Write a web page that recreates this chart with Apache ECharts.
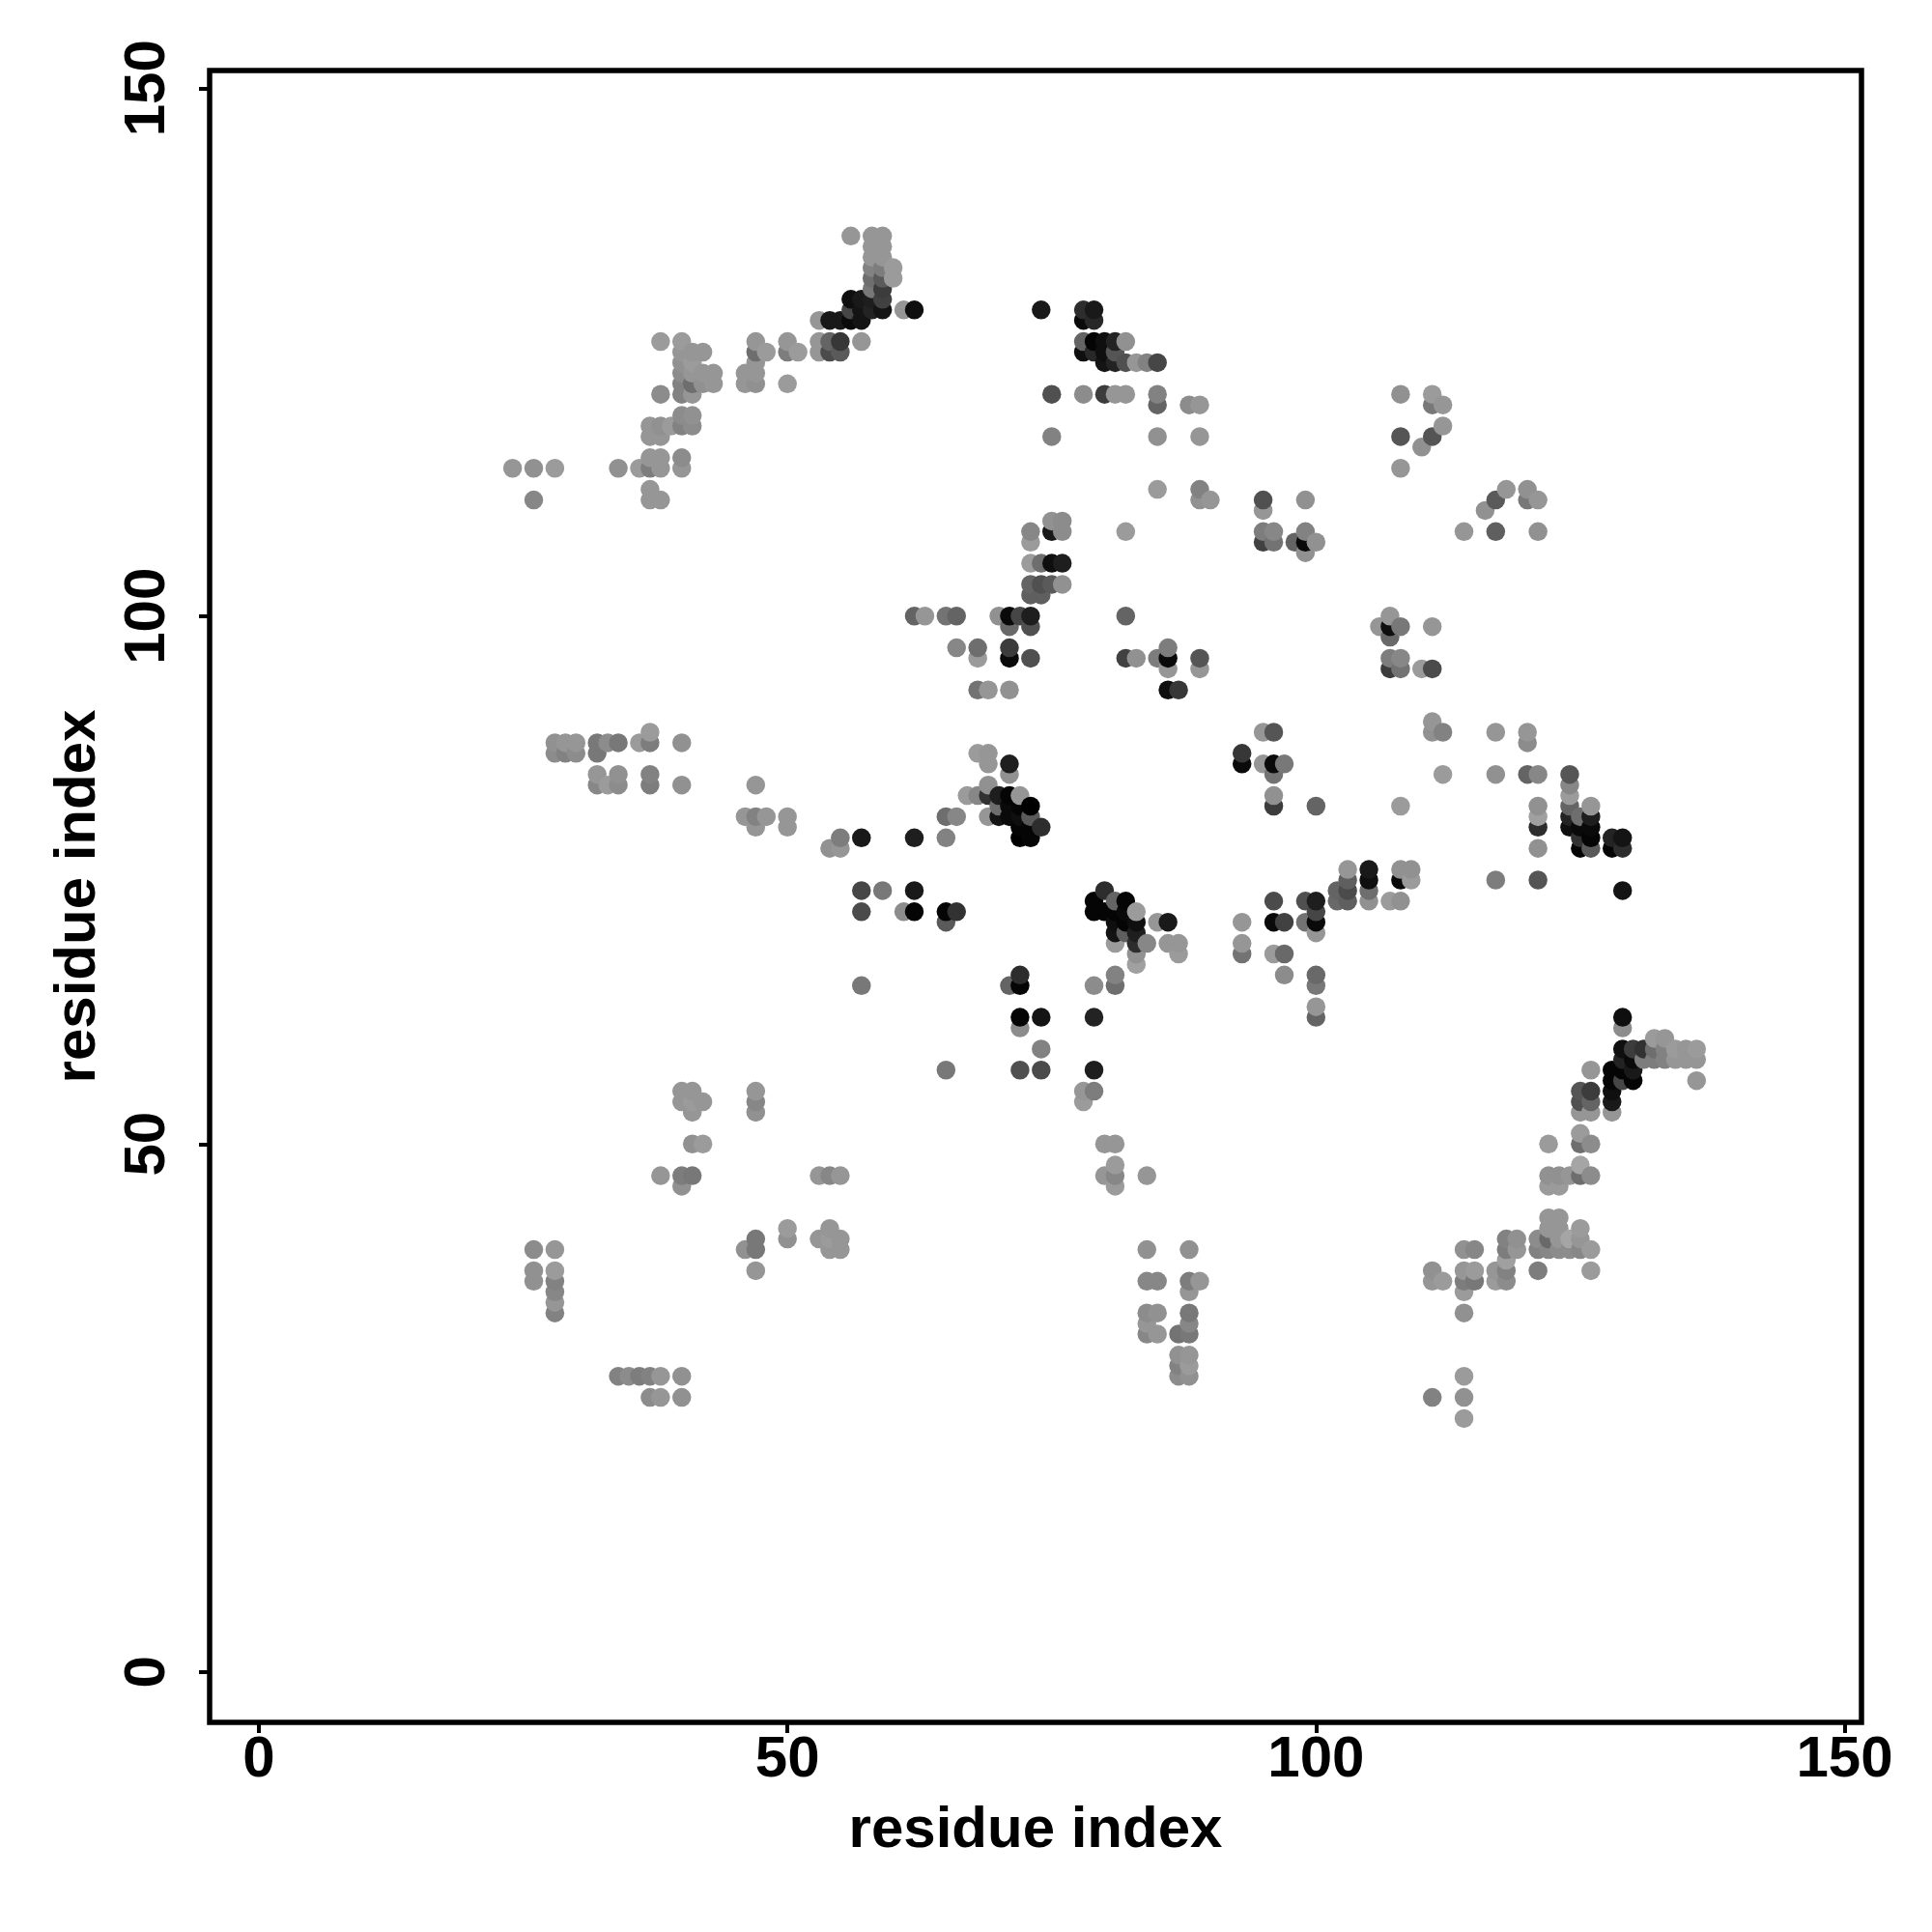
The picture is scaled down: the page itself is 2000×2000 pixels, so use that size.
<!DOCTYPE html>
<html>
<head>
<meta charset="utf-8">
<script src="https://cdn.jsdelivr.net/npm/echarts@6/dist/echarts.min.js"></script>
<style>html,body{margin:0;padding:0;background:#fff}#c{width:2000px;height:2000px}</style>
</head>
<body>
<div id="c"></div>
<script>
const tickValues = [0, 50, 100, 150];
const xTitle = 'residue index';
const yTitle = 'residue index';
const rowY = [136,135,134,133,132,131,130,129,128,126,125,124,123,122,121,120,119,118,117,116,115,114,112,111,110,109,108,107,106,105,103,102,100,99,98,97,96,95,93,90,89,88,87,86,85,84,83,82,81,80,79,78,76,75,74,73,72,71,70,69,68,67,66,65,63,62,61,60,59,58,57,56,55,54,53,51,50,48,47,46,43,42,41,40,39,38,37,36,35,34,33,32,30,29,28,26,24];
const rowX = [
[56,58,59],[58,59],[58,59],[58,59,60],[58,59,60],[58,59],[56,57,58,59],
[56,57,58,59,61,62,74,78,79],[53,54,55,56,57,78,79],
[38,40,47,50,53,54,55,57,78,79,80,81,82],
[40,41,42,47,48,50,51,53,54,55,78,79,80,81],
[40,41,47,80,81,82,83,84,85],[40,41,42,43,46,47],[40,41,42,43,46,47,50],
[38,40,41,75,78,80,81,82,85,108,111],[85,88,89,111,112],[40,41],[37,38,39,40,41,112],
[37,38,75,85,89,108,111],[110],[37,38,40],[24,26,28,34,36,37,38,40,108],
[37,85,89,118,120],[26,37,38,89,90,95,99,117,120,121],[95,116],[75,76],
[73,75,76,82,95,96,99,114,117,121],[73,95,96,98,99,100],[99],[73,74,75,76],[73,74,75,76],[73,74],
[62,63,65,66,70,71,72,73,82,107],[71,73,106,107,108,111],[107],[66,68,71,86],
[68,71,73,82,83,85,86,89,107,108],[86,89,107,108,110,111],[68,69,71,86,87],[111],
[37,95,96,111,112,117,120],[28,29,30,32,33,34,36,37,40,120],[28,29,30,32,68,69,93],
[69,71,93,95,96,97],[32,34,37,71,96,112,117,120,121,124],[32,33,34,37,40,47,69,124],
[67,68,69,70,71,72,96,124],[70,71,72,73,96,100,108,121,124,126],
[46,47,48,50,65,66,69,70,71,72,73,121,124,125,126],[47,50,72,73,74,121,124,125,126],
[55,57,62,65,72,73,125,126,128,129],[54,55,121,125,126,128,129],[103,105,108,109],
[103,105,108,109,117,121],[57,59,62,80,102,103,105,129],[79,81,82,96,99,100,102,103,105,107,108],
[57,61,62,65,66,79,80,81,82,83,100],[65,81,82,83,85,86,93,96,97,99,100],[81,82,83,100],
[81,83,84,86,87,93],[83,87,93,96,97],[83],[72,81,97,100],[57,71,72,79,81,100],[100],
[72,74,79,100,129],[72,129],[132,133],[74,129,130,131,132,133,134,135,136],
[129,130,131,132,133,134,135,136],[65,72,74,79,126,128,129,130],[128,129,130,136],
[40,41,47,78,79,125,126,128],[40,41,42,47,78,125,126,128],[41,47,125,126,128],[125],
[41,42,80,81,122,125,126],[81,125],[38,40,41,53,54,55,80,81,84,122,123,124,125,126],
[40,81,122,123],[122,123],[50,54,122,123,125],
[47,50,53,54,55,118,119,121,122,123,124,125],
[26,28,46,47,54,55,84,88,114,115,118,119,121,122,123,124,125,126],[118],
[26,28,47,111,114,115,117,118,121,126],[26,28,84,85,88,89,111,112,114,115,117,118],
[28,88,114],[28],[28,84,85,88,114],[84,88],[84,85,87,88],[87,88],[87,88],
[34,35,36,37,38,40,87,88,114],[37,38,40,111,114],[114]
];
const rowGray = [
[150,150,150],[150,150],[150,150],[130,125,155],[110,90,155],[120,60],[15,25,30,65],
[70,20,35,20,150,15,25,45,25],[150,25,25,10,20,10,40],
[155,155,150,150,150,100,55,150,100,5,15,35,145],
[150,150,150,110,155,125,155,150,75,90,15,40,15,85],
[145,155,150,20,35,80,150,130,70],[140,150,150,150,150,150],[130,110,145,150,150,145,155],
[140,130,150,80,140,60,150,150,130,145,155],[100,140,150,120,150],[140,145],[150,145,155,130,140,150],
[150,150,130,145,150,85,85],[145],[150,150,140],[150,145,155,145,155,125,150,150,150],
[150,155,130,150,145],[135,150,150,145,150,80,145,90,120,150],[150,145],[145,140],
[135,25,140,155,125,135,130,150,95,145],[155,65,115,100,10,145],[145],[155,110,15,30],[100,80,90,145],[95,95],
[100,150,115,100,145,10,70,30,100,150],[105,80,150,15,120,150],[105],[135,110,60,125],
[155,10,80,65,145,125,10,85,125,135],[150,150,60,115,155,75],[115,150,145,15,55],[150],
[155,150,85,145,130,150,150],[145,150,150,120,140,120,155,125,145,140],[140,130,140,120,155,150,55],
[150,30,10,150,10,120],[150,145,130,145,115,155,145,100,135,85],[135,155,140,125,145,150,145,135],
[155,135,50,30,5,150,145,155],[110,10,5,0,60,100,155,145,100,150],
[150,130,150,150,110,135,150,20,10,15,90,160,35,110,30],[150,150,5,5,45,45,15,10,10],
[125,25,30,130,0,5,50,5,35,20],[145,150,145,5,90,5,45],[150,25,145,145],
[95,15,10,155,125,85],[70,120,25,45,100,75,110,20],[5,100,5,75,80,30,105,95,145,155,145],
[75,140,5,5,50,5,5,5,10,155,70],[90,15,5,15,150,25,150,10,65,115,10],[20,95,30,150],
[155,45,135,150,150,150],[145,155,115,155,105],[160],[45,130,140,105],[120,100,5,140,110,120],[150],
[5,20,35,100,15],[140,140],[155,150],[130,15,60,50,110,130,155,150,155],
[35,10,125,125,130,150,150,150],[120,80,75,30,150,5,5,25],[5,70,5,150],
[150,150,150,150,125,85,60,15],[150,155,150,135,155,80,100,25],[150,145,150,150,150],[155],
[145,155,150,150,155,110,140],[155,165],[150,125,120,150,135,150,150,135,150,145,145,150,110,140],
[145,155,155,155],[150,150],[155,150,150,150,155],
[120,145,150,155,150,130,145,140,105,150,165,150],
[140,150,145,120,150,150,145,145,145,135,125,150,130,135,140,140,135,155],[160],
[145,155,150,145,150,155,150,130,125,155],[145,130,135,135,125,150,150,155,125,120,155,140],
[135,150,155],[150],[130,140,145,120,145],[150,135],[135,150,115,120],[145,150],[130,155],
[130,140,125,130,150,145,140,145,155],[140,150,145,130,145],[155]
];

const points = [];
rowY.forEach((y, r) => rowX[r].forEach((x, k) => points.push([x, y, rowGray[r][k]])));
// later residues are painted over earlier ones
points.sort((a, b) => a[0] - b[0] || a[1] - b[1]);

const font = 'Liberation Sans';
const chart = echarts.init(document.getElementById('c'), null, {renderer: 'canvas'});
chart.setOption({
  animation: false,
  backgroundColor: '#ffffff',
  grid: {left: 217, top: 73, width: 1710, height: 1710, show: true, borderColor: '#000', borderWidth: 5.5, backgroundColor: 'transparent', containLabel: false},
  xAxis: {
    type: 'value', min: -4.66, max: 151.6,
    name: xTitle, nameLocation: 'middle', nameGap: 82,
    nameTextStyle: {fontFamily: font, fontWeight: 'bold', fontSize: 60, color: '#000'},
    axisLine: {show: false, onZero: false},
    axisTick: {show: true, length: 11, lineStyle: {color: '#000', width: 4}, customValues: tickValues},
    axisLabel: {fontFamily: font, fontWeight: 'bold', fontSize: 60, color: '#000', margin: 9, customValues: tickValues, hideOverlap: false, showMinLabel: true, showMaxLabel: true},
    splitLine: {show: false}
  },
  yAxis: {
    type: 'value', min: -4.78, max: 151.67,
    name: yTitle, nameLocation: 'middle', nameGap: 106, nameRotate: 90,
    nameTextStyle: {fontFamily: font, fontWeight: 'bold', fontSize: 60, color: '#000'},
    axisLine: {show: false, onZero: false},
    axisTick: {show: true, length: 11, lineStyle: {color: '#000', width: 4}, customValues: tickValues},
    axisLabel: {fontFamily: font, fontWeight: 'bold', fontSize: 60, color: '#000', margin: 34, rotate: 90, customValues: tickValues, hideOverlap: false, showMinLabel: true, showMaxLabel: true},
    splitLine: {show: false}
  },
  series: [{
    type: 'scatter',
    data: points,
    symbol: 'circle',
    symbolSize: 19.5,
    silent: true,
    large: false,
    progressive: 0,
    clip: false,
    itemStyle: {opacity: 1, color: p => { const g = p.data[2]; return 'rgb(' + g + ',' + g + ',' + g + ')'; }}
  }]
});
</script>
</body>
</html>
